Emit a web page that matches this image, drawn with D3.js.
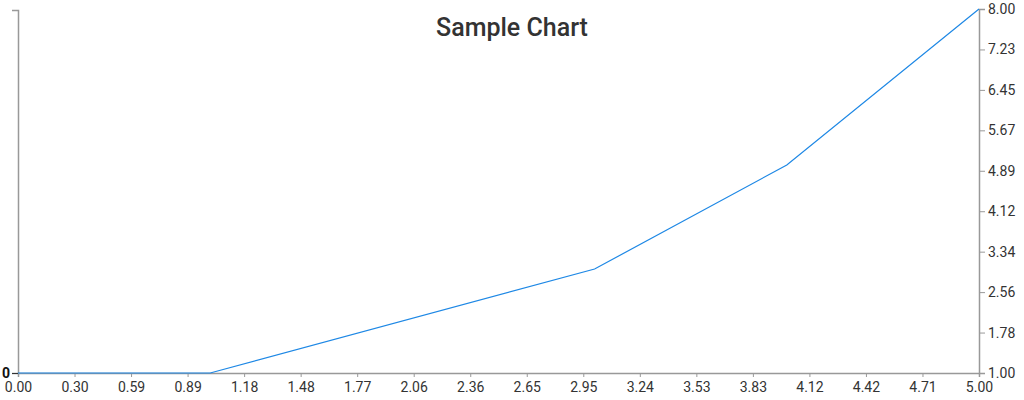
<!DOCTYPE html>
<html>
<head>
<meta charset="utf-8">
<script src="https://cdn.jsdelivr.net/npm/d3@7"></script>
<style>
  html, body { margin: 0; padding: 0; background: #fff; }
  svg { display: block; font-family: Roboto, sans-serif; }
</style>
</head>
<body>
<svg id="chart" width="1024" height="400"></svg>
<script>
// data
const xs = [0, 1, 3, 4, 5];
const ys = [1, 1, 3, 5, 8];
const title = 'Sample Chart';
const xTickCount = 18;   // 0 .. 5 in 17 steps
const yTickCount = 10;   // 1 .. 8 in 9 steps

const W = 1024, H = 400;
const m = { top: 9, right: 45, bottom: 27, left: 18 };

const svg = d3.select('#chart');

const x = d3.scaleLinear().domain([0, 5]).range([m.left, W - m.right]);
const y = d3.scaleLinear().domain([1, 8]).range([H - m.bottom, m.top]);

const xTicks = d3.range(xTickCount).map(i => 5 * i / (xTickCount - 1));
const yTicks = d3.range(yTickCount).map(i => 1 + 7 * i / (yTickCount - 1));

// labels are rounded up to 2 decimals
const fmt = v => (Math.ceil(v * 100 - 1e-9) / 100).toFixed(2);

// x axis
const gx = svg.append('g').attr('transform', `translate(0,${H - m.bottom})`)
  .call(d3.axisBottom(x).tickValues(xTicks).tickFormat(fmt).tickSizeOuter(0).tickSize(4));
// right y axis
const gy = svg.append('g').attr('transform', `translate(${W - m.right},0)`)
  .call(d3.axisRight(y).tickValues(yTicks).tickFormat(fmt).tickSizeOuter(0).tickSize(6));
// left axis (empty, only a zero)
const gl = svg.append('g').attr('transform', `translate(${m.left},0)`)
  .call(d3.axisLeft(d3.scaleLinear().domain([0, 1]).range([H - m.bottom, m.top + 1]))
    .tickValues([0]).tickFormat(d3.format('d')).tickSizeOuter(0).tickSize(6));

[gx, gy, gl].forEach(g => {
  g.select('.domain').attr('stroke', '#999').attr('stroke-width', 1.5);
  g.selectAll('.tick line').attr('stroke', '#999');
  g.selectAll('.tick text').attr('fill', '#333').attr('font-size', 14).attr('font-family', 'Roboto, sans-serif');
});
gx.selectAll('.tick text').attr('dy', '0.85em');
gl.selectAll('.tick line').attr('stroke', '#333');
gl.selectAll('.tick text').attr('fill', '#111').attr('font-weight', 700).attr('x', -8);

// line
const line = d3.line().x((d, i) => x(xs[i])).y(d => y(d));
svg.append('path').datum(ys)
  .attr('fill', 'none').attr('stroke', '#1e88e5').attr('stroke-width', 1.2)
  .attr('d', line);

// title
svg.append('text').attr('x', W / 2).attr('y', 36)
  .attr('text-anchor', 'middle').attr('font-size', 25).attr('font-weight', 500)
  .attr('fill', '#333').text(title);
</script>
</body>
</html>
